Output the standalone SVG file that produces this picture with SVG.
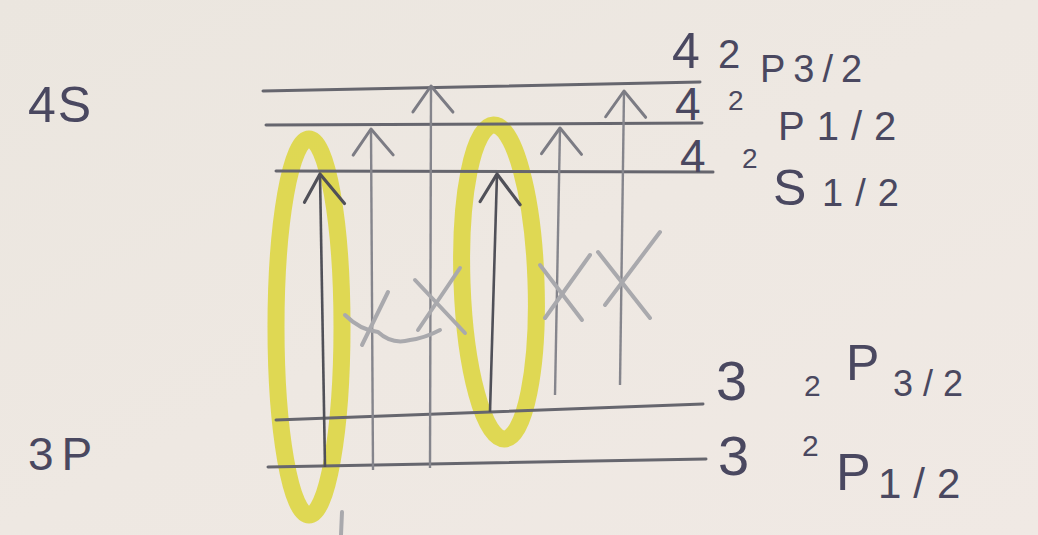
<svg xmlns="http://www.w3.org/2000/svg" width="1038" height="535" viewBox="0 0 1038 535">
<defs>
<linearGradient id="paper" x1="0" y1="0" x2="1" y2="1">
<stop offset="0" stop-color="#ebe6df"/>
<stop offset="0.5" stop-color="#eee8e2"/>
<stop offset="1" stop-color="#f0e9e4"/>
</linearGradient>
<marker id="headDark" markerUnits="userSpaceOnUse" markerWidth="60" markerHeight="60" viewBox="-40 -30 60 60" refX="0" refY="0" orient="auto" overflow="visible">
<path d="M-28,-16 L0,0 L-30,24" fill="none" stroke="#505058" stroke-width="3.2" stroke-linecap="round" stroke-linejoin="round"/>
</marker>
<marker id="headGray" markerUnits="userSpaceOnUse" markerWidth="60" markerHeight="60" viewBox="-40 -30 60 60" refX="0" refY="0" orient="auto" overflow="visible">
<path d="M-26,-18 L0,0 L-26,22" fill="none" stroke="#7c7c84" stroke-width="3" stroke-linecap="round" stroke-linejoin="round"/>
</marker>
</defs>
<style>
.lvl{fill:none;stroke:#66666e;stroke-width:3;stroke-linecap:round}
.lbl{font-family:"Liberation Sans",Arial,sans-serif;fill:#4a4860}
.arrD{fill:none;stroke:#505058;stroke-width:2.6;marker-end:url(#headDark)}
.arrG{fill:none;stroke:#85858c;stroke-width:2.4;marker-end:url(#headGray)}
.x{fill:none;stroke:#a9a9ad;stroke-width:4;stroke-linecap:round;stroke-linejoin:round}
.hl{fill:none;stroke:#dcd53a;stroke-width:17;opacity:0.85}
</style>
<rect x="0" y="0" width="1038" height="535" fill="url(#paper)"/>

<g id="highlights">
<ellipse class="hl" cx="309" cy="327" rx="33" ry="188"/>
<ellipse class="hl" cx="499" cy="282" rx="37" ry="157" transform="rotate(-2 499 282)"/>
</g>

<g id="shell-4s">
<text class="lbl" x="28" y="122" font-size="50" letter-spacing="2">4S</text>
</g>
<g id="shell-3p">
<text class="lbl" x="28" y="470" font-size="46" letter-spacing="8">3P</text>
</g>

<g id="level-4P32">
<path class="lvl" d="M263,91 L700,82"/>
<text class="lbl"><tspan x="672" y="68" font-size="50">4</tspan><tspan x="718" y="68" font-size="40">2</tspan><tspan x="760" y="82" font-size="38" letter-spacing="8">P3/2</tspan></text>
</g>
<g id="level-4P12">
<path class="lvl" d="M266,125 L702,123"/>
<text class="lbl"><tspan x="675" y="120" font-size="46">4</tspan><tspan x="728" y="110" font-size="28">2</tspan><tspan x="778" y="140" font-size="40" letter-spacing="12">P1/2</tspan></text>
</g>
<g id="level-4S12">
<path class="lvl" d="M276,171 L713,172"/>
<text class="lbl"><tspan x="680" y="172" font-size="46">4</tspan><tspan x="742" y="168" font-size="28">2</tspan><tspan x="773" y="205" font-size="50">S</tspan><tspan x="822" y="206" font-size="38" letter-spacing="12">1/2</tspan></text>
</g>
<g id="level-3P32">
<path class="lvl" d="M276,420 L703,404"/>
<text class="lbl"><tspan x="716" y="400" font-size="56">3</tspan><tspan x="804" y="396" font-size="30">2</tspan><tspan x="846" y="380" font-size="50">P</tspan><tspan x="893" y="396" font-size="36" letter-spacing="10">3/2</tspan></text>
</g>
<g id="level-3P12">
<path class="lvl" d="M268,467 L706,459"/>
<text class="lbl"><tspan x="718" y="475" font-size="56">3</tspan><tspan x="802" y="456" font-size="30">2</tspan><tspan x="836" y="490" font-size="52">P</tspan><tspan x="878" y="498" font-size="42" letter-spacing="12">1/2</tspan></text>
</g>

<g id="connectors">
<path class="arrD" d="M325,467 L320,174"/>
<path class="arrG" d="M373,470 L371,129"/>
<path class="arrG" d="M430,468 L431,86"/>
<path class="arrD" d="M490,412 L497,174"/>
<path class="arrG" d="M555,395 L560,128"/>
<path class="arrG" d="M620,385 L624,91"/>
</g>

<g id="crosses">
<path class="x" d="M345,315 Q360,330 378,332 Q392,345 410,340 Q425,338 440,330"/>
<path class="x" d="M388,292 L362,345"/>
<path class="x" d="M415,280 L465,333"/>
<path class="x" d="M460,268 L418,330"/>
<path class="x" d="M540,265 L582,320"/>
<path class="x" d="M590,255 L545,318"/>
<path class="x" d="M598,252 L650,318"/>
<path class="x" d="M660,232 L605,305"/>
<path class="x" d="M342,512 L341,535"/>
</g>
</svg>
